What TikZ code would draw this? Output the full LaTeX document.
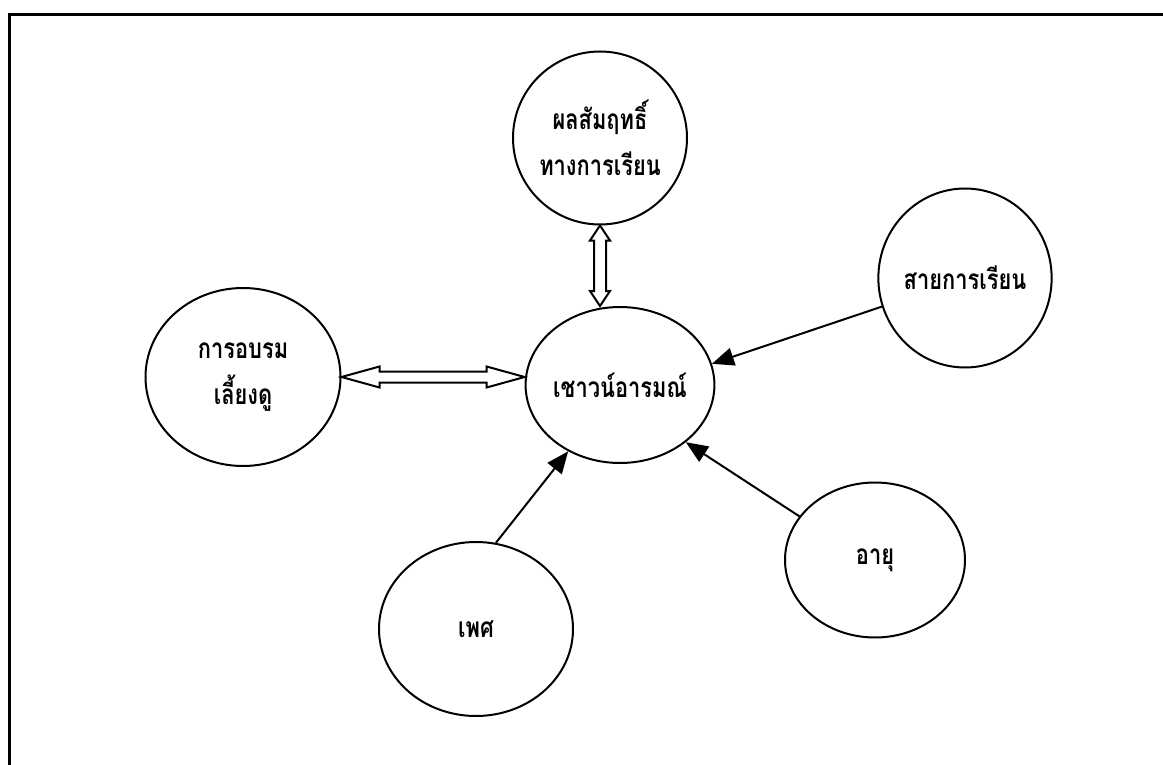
\documentclass[tikz,border=0pt]{standalone}
\usepackage{fontspec}
\newfontfamily\thaifont[Script=Thai, FakeStretch=0.78]{Loma}
\usepackage{tikz}
\usetikzlibrary{arrows.meta}
\usetikzlibrary{calc}
\usetikzlibrary{shapes.geometric}
\tikzset{bubble/.style = {draw, ellipse, line width=1pt, inner sep=0pt, align=center, text centered}}
\tikzset{arr/.style = {line width=1pt, -{Triangle[length=11pt, width=9pt]}}}
\tikzset{dbl/.style = {line width=1pt, line join=miter}}
\tikzset{frame/.style = {line width=1.5pt}}

\begin{document}
\begin{tikzpicture}[x=0.5pt, y=-0.5pt,
  font=\thaifont\bfseries\fontsize{14}{23}\selectfont
]
\useasboundingbox (0,0) rectangle (1163,765);

\draw[frame] (9,765) -- (9,15) -- (1163,15);

\node[bubble, minimum width=88pt, minimum height=78pt] (eq) at (620,385) {เชาวน์อารมณ์};
\node[bubble, minimum width=87pt, minimum height=86.5pt] (ach) at (600,138) {ผลสัมฤทธิ์ \\ ทางการเรียน};
\node[bubble, minimum width=97.5pt, minimum height=89pt] (rear) at (243,377) {การอบรม \\ เลี้ยงดู};
\node[bubble, minimum width=83pt, minimum height=89.5pt] (prog) at (965,278) {สายการเรียน};
\node[bubble, minimum width=90pt, minimum height=77.5pt] (age) at (875,560) {อายุ};
\node[bubble, minimum width=97pt, minimum height=87pt] (sex) at (476,629) {เพศ};

% hollow two-way arrows
\draw[dbl] (ach.south) -- ++(10,15) -- ++(-4,0) -- ($(ach.south |- eq.north)+(6,-15)$) -- ++(4,0)
  -- (ach.south |- eq.north) -- ++(-10,-15) -- ++(4,0) -- ($(ach.south)+(-6,15)$) -- ++(-4,0) -- cycle;
\draw[dbl] (rear.east) -- ++(38,-10.5) -- ++(0,5) -- ($(rear.east -| eq.west)+(-38,-5.5)$) -- ++(0,-5)
  -- (rear.east -| eq.west) -- ++(-38,10.5) -- ++(0,-5) -- ($(rear.east)+(38,5.5)$) -- ++(0,5) -- cycle;

\draw[arr]  (prog.199) -- (eq.13);
\draw[arr]  (sex.77) -- (eq.232);
\draw[arr]  (age.150) -- (eq.319);

\end{tikzpicture}
\end{document}
